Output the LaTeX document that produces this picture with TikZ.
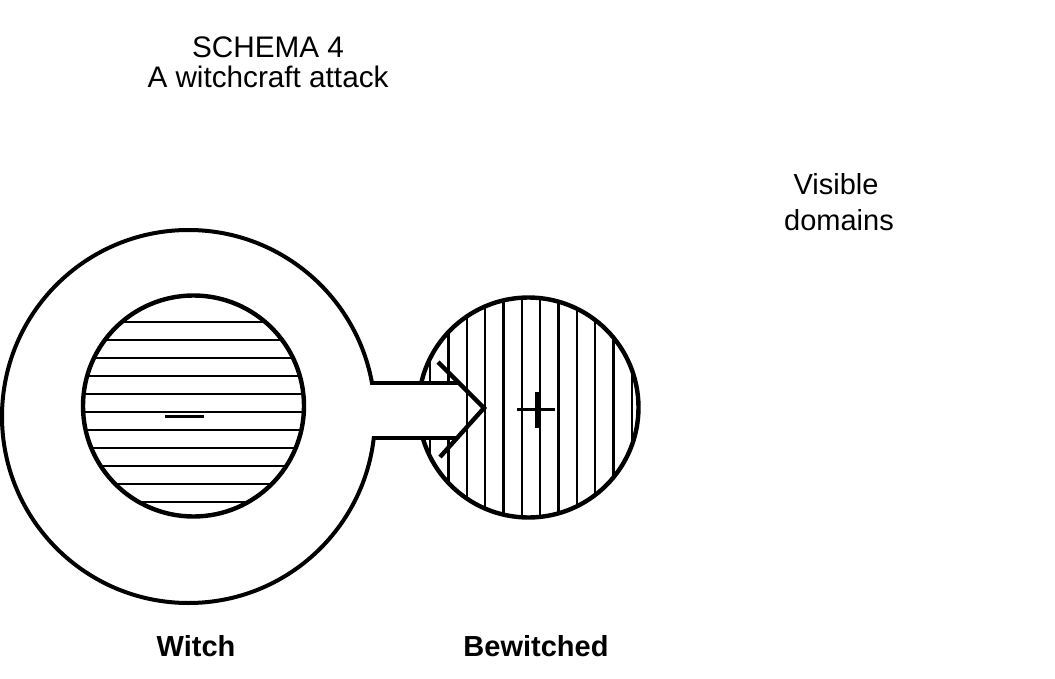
\documentclass[tikz,border=0pt]{standalone}
\usepackage{fontspec}
\setmainfont{Liberation Sans}
\begin{document}
\begin{tikzpicture}[x=1pt,y=-1pt,
  outline/.style={line width=4.4pt},
  thinout/.style={line width=4pt},
  hatch/.style={line width=2pt},
  vhatch/.style={line width=2.4pt},
  lbl/.style={inner sep=0pt, anchor=base, font=\fontsize{29}{30}\selectfont},
  tlbl/.style={inner sep=0pt, anchor=base, font=\fontsize{29.7}{30}\selectfont},
  blbl/.style={inner sep=0pt, anchor=base, font=\fontsize{29}{30}\selectfont\bfseries}]
\useasboundingbox (0,0) rectangle (1055,679);
% texts
\node[tlbl] (t1) at (268,58) {SCHEMA 4};
\node[tlbl] (t2) at (268,88) {A witchcraft attack};
\node[lbl] (v1) at (836,195) {Visible};
\node[lbl] (v2) at (839,231) {domains};
\node[blbl] (lw) at (196,656) {Witch};
\node[blbl] (lb) at (536,656) {Bewitched};
% centres
\coordinate (wc) at (188.5,416.5);
\coordinate (wi) at (193.5,406);
\coordinate (bc) at (528.5,407.5);
% witch inner hatched circle
\begin{scope}
  \clip (wi) circle (110.5pt);
  \foreach \y in {322,340,...,502} \draw[hatch] (70,\y) -- (320,\y);
\end{scope}
\draw[outline] (wi) circle (110.5pt);
\coordinate (m1) at (165,416.5);
\coordinate (m2) at (204,416.5);
\draw[line width=3.5pt] (m1) -- (m2);
% witch outer circle
\draw[thinout] (wc) circle (186.5pt);
% bewitched hatched circle
\begin{scope}
  \clip (bc) circle (110pt);
  \foreach \i in {0,...,11} \draw[vhatch] ({430+18.35*\i},290) -- ({430+18.35*\i},525);
\end{scope}
\draw[outline] (bc) circle (110pt);
% open channel between the two
\fill[white] (360,385.2) rectangle (459,435.8);
\coordinate (c1) at (371,383);
\coordinate (c2) at (458,383);
\coordinate (c3) at (373,438);
\coordinate (c4) at (456,438);
\draw[outline] (c1) -- (c2);
\draw[outline] (c3) -- (c4);
% chevron
\coordinate (ca) at (438,362);
\coordinate (cv) at (484,408);
\coordinate (cb) at (440,457);
\draw[outline] (ca) -- (cv) -- (cb);
% cross
\coordinate (x1) at (517,409);
\coordinate (x2) at (555,409);
\coordinate (y1) at (537,392);
\coordinate (y2) at (537,428);
\draw[line width=3pt] (x1) -- (x2);
\draw[line width=4pt] (y1) -- (y2);
\end{tikzpicture}
\end{document}
